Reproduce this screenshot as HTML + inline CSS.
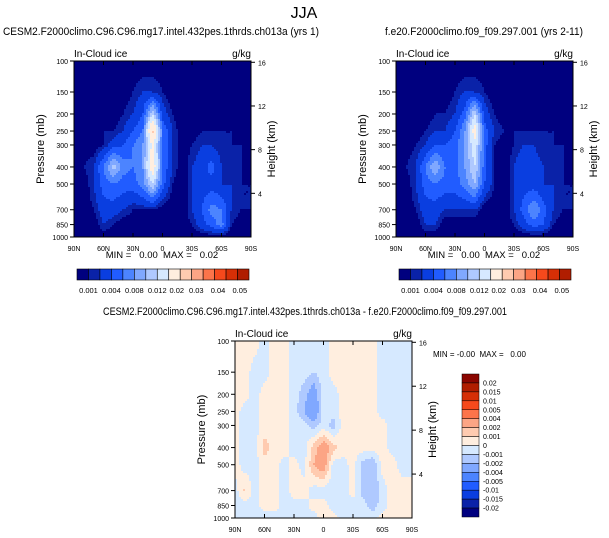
<!DOCTYPE html>
<html><head><meta charset="utf-8"><style>
body{margin:0;background:#fff;width:609px;height:538px;overflow:hidden;font-family:"Liberation Sans",sans-serif}
svg{display:block}
text{white-space:pre}
</style></head><body>
<svg id="c" width="609" height="538" xmlns="http://www.w3.org/2000/svg" font-family="Liberation Sans, sans-serif">
<text x="304" y="18" font-size="16" text-anchor="middle">JJA</text>
</svg>
<script>
// ---- data ----
const lats = [90,80,70,60,50,40,30,20,10,0,-10,-20,-30,-40,-50,-60,-70,-80,-90];
const levels = [100,150,200,250,300,400,500,700,850,1000];
const fieldA = [
[0,0,0,0,0,0,0,0,0,0,0,0,0,0,0,0,0,0,0],
[0,0,0,0,0,0,0.001,0.002,0.002,0.001,0,0,0,0,0,0,0,0,0],
[0,0,0,0,0,0.001,0.002,0.004,0.012,0.003,0.001,0,0,0,0,0,0,0,0],
[0,0,0,0.001,0.001,0.002,0.004,0.006,0.021,0.006,0.002,0,0,0.001,0.001,0.001,0.001,0,0],
[0,0,0,0.001,0.003,0.004,0.006,0.008,0.016,0.006,0.002,0,0.001,0.002,0.002,0.001,0.001,0.001,0],
[0.001,0.001,0.002,0.006,0.011,0.007,0.006,0.008,0.018,0.006,0.002,0,0.002,0.003,0.005,0.002,0.001,0.001,0],
[0,0,0.002,0.005,0.006,0.005,0.005,0.007,0.012,0.005,0.001,0,0.002,0.003,0.003,0.002,0.002,0.001,0.001],
[0,0,0.001,0.003,0.003,0.002,0.001,0.001,0.001,0,0,0,0.002,0.004,0.007,0.006,0.002,0.001,0.001],
[0,0,0,0.002,0.001,0,0,0,0,0,0,0,0.001,0.003,0.005,0.007,0.001,0,0],
[0,0,0,0,0,0,0,0,0,0,0,0,0,0,0,0,0,0,0]];
const fieldB = [
[0,0,0,0,0,0,0,0,0,0,0,0,0,0,0,0,0,0,0],
[0,0,0,0,0,0,0.001,0.002,0.002,0.001,0,0,0,0,0,0,0,0,0],
[0,0,0,0,0.001,0.001,0.002,0.005,0.012,0.003,0.001,0,0,0,0,0,0,0,0],
[0,0,0,0.001,0.002,0.002,0.004,0.008,0.017,0.005,0.002,0.001,0.001,0.001,0.001,0.001,0.001,0,0],
[0,0,0.001,0.002,0.004,0.004,0.005,0.008,0.014,0.005,0.001,0,0.001,0.002,0.002,0.001,0.001,0.001,0.001],
[0.001,0.001,0.002,0.006,0.01,0.006,0.005,0.008,0.012,0.005,0.001,0,0.002,0.004,0.003,0.002,0.001,0.001,0],
[0,0,0.002,0.005,0.006,0.005,0.005,0.007,0.01,0.004,0.001,0,0.002,0.003,0.003,0.002,0.002,0.001,0.001],
[0,0,0.001,0.003,0.003,0.002,0.002,0.002,0.002,0,0,0,0.002,0.005,0.008,0.005,0.002,0.001,0.001],
[0,0,0,0.002,0.002,0,0,0,0,0,0,0,0.001,0.003,0.005,0.004,0.001,0,0],
[0,0,0,0,0,0,0,0,0,0,0,0,0,0,0,0,0,0,0]];
const P=0.0005, B=-0.0005;
const fieldD = [
[P,P,P,B,P,P,B,B,B,B,P,P,P,P,P,B,B,B,B],
[P,P,B,B,P,P,B,B,-0.001,B,P,P,P,P,P,B,B,B,B],
[P,P,B,P,P,P,B,-0.0015,-0.003,B,B,P,P,P,P,B,B,B,B],
[P,B,B,P,P,P,B,-0.002,-0.0035,B,B,P,P,P,P,B,B,B,B],
[P,B,B,P,P,P,B,B,-0.0015,B,-0.0015,P,P,P,P,P,B,B,B],
[P,B,B,0.0015,P,P,B,B,0.0015,0.003,0.0015,P,P,P,P,P,B,B,B],
[P,B,B,P,P,B,P,B,0.002,0.003,B,B,P,-0.0015,-0.002,P,P,B,B],
[B,0.0012,B,P,P,B,P,P,B,B,B,B,P,-0.0015,-0.002,B,P,P,P],
[B,B,B,P,P,B,B,B,P,P,B,B,B,B,-0.0015,B,P,P,P],
[B,B,B,B,B,B,B,B,B,P,P,B,B,B,B,P,P,P,P]];
const thrA = [0.001,0.002,0.004,0.006,0.008,0.01,0.012,0.015,0.02,0.025,0.03,0.035,0.04,0.045];
const colA = ['#00007f','#0a22a8','#0a3ee0','#215cff','#4c84ff','#80a8ff','#afc9ff','#d6e9ff','#ffeedf','#ffcbb0','#fca585','#fc744a','#f5491c','#d62f06','#b01d00'];
const labA = ['0.001','0.004','0.008','0.012','0.02','0.03','0.04','0.05'];
const thrD = [-0.02,-0.015,-0.01,-0.005,-0.004,-0.002,-0.001,0,0.001,0.002,0.004,0.005,0.01,0.015,0.02];
const colD = ['#00007f','#0a22a8','#0a3ee0','#215cff','#4c84ff','#80a8ff','#afc9ff','#d6e9ff','#ffeedf','#ffcbb0','#fca585','#fc744a','#f5491c','#d62f06','#b01d00','#8a0500'];
const labD = ['0.02','0.015','0.01','0.005','0.004','0.002','0.001','0','-0.001','-0.002','-0.004','-0.005','-0.01','-0.015','-0.02'];
const xTicks = ['90N','60N','30N','0','30S','60S','90S'];
const pTicks = [100,150,200,250,300,400,500,700,850,1000];
const hTicks = [16,12,8,4];

const NS='http://www.w3.org/2000/svg';
const svg=document.getElementById('c');
function mk(tag,attrs,parent){const e=document.createElementNS(NS,tag);for(const k in attrs)e.setAttribute(k,attrs[k]);(parent||svg).appendChild(e);return e;}
function txt(x,y,s,size,anchor,parent){const t=mk('text',{x:x,y:y,'font-size':size,'text-anchor':anchor||'start'},parent);t.textContent=s;return t;}

function panel(x0,y0,w,h,field,thr,cols,title,titleX,titleLen,name){
  const g=mk('g',{});
  
  
  const ys=p=>y0+Math.log(p/100)/Math.log(10)*h;
  const lp=levels.map(p=>Math.log(p));
  function val(lat,p){
    let fi=Math.max(0,Math.min(18,(90-lat)/10)); let i=Math.min(Math.floor(fi),17); let fx=fi-i;
    const l=Math.log(p); let j=0; while(j<levels.length-2 && lp[j+1]<l) j++;
    let fy=Math.max(0,Math.min(1,(l-lp[j])/(lp[j+1]-lp[j])));
    const a=field[j][i],b=field[j][i+1],c=field[j+1][i],d=field[j+1][i+1];
    return a*(1-fx)*(1-fy)+b*fx*(1-fy)+c*(1-fx)*fy+d*fx*fy;
  }
  const cg=mk('g',{'shape-rendering':'crispEdges'},g);
  
  
  const step=2;
  for(let py=0;py<h;py+=step){
    const p=100*Math.pow(10,Math.min(h,py+step/2)/h);
    const hh=Math.min(step,h-py);
    let run=null,rx=0;
    for(let px=0;;px+=step){
      const end=px>=w;
      const cx=end?w:px;
      let ci=null;
      if(!end){const lat=90-(px+step/2)/w*180; const v=val(lat,p); ci=0; while(ci<thr.length && v>=thr[ci]) ci++;}
      if(ci!==run){ if(run!==null) mk('rect',{x:x0+rx,y:y0+py,width:cx-rx,height:hh,fill:cols[run]},cg); run=ci; rx=cx; }
      if(end) break;
    }
  }
  mk('rect',{x:x0,y:y0,width:w,height:h,fill:'none',stroke:'#000','stroke-width':1},g);
  const tt=txt(titleX,y0-26,title,11,'middle',g); 
  tt.setAttribute('textLength',titleLen); tt.setAttribute('lengthAdjust','spacingAndGlyphs');
  txt(x0,y0-4,'In-Cloud ice',10,'start',g);
  txt(x0+w,y0-4,'g/kg',10,'end',g);
  xTicks.forEach((s,k)=>{const x=x0+k*w/6; mk('line',{x1:x,y1:y0+h,x2:x,y2:y0+h-4,stroke:'#000'},g); mk('line',{x1:x,y1:y0,x2:x,y2:y0+4,stroke:'#000'},g); const t=txt(x,y0+h+14,s,7,'middle',g); });
  pTicks.forEach(p=>{const y=ys(p); mk('line',{x1:x0-4,y1:y,x2:x0,y2:y,stroke:'#000'},g); const t=txt(x0-6,y+3,String(p),7,'end',g); });
  hTicks.forEach(hk=>{const p=1000*Math.exp(-hk/7); const y=ys(p); mk('line',{x1:x0+w,y1:y,x2:x0+w+4,y2:y,stroke:'#000'},g); const t=txt(x0+w+7,y+3,String(hk),7,'start',g); });
  const yl=txt(0,0,'Pressure (mb)',11,'middle',g); yl.setAttribute('transform',`translate(${x0-30},${y0+h/2}) rotate(-90)`); 
  const hl=txt(0,0,'Height (km)',11,'middle',g); hl.setAttribute('transform',`translate(${x0+w+24},${y0+h/2}) rotate(-90)`); 
  return g;
}
function hbar(x0,y0,w,h,name){
  const g=mk('g',{});
  
  
  const bw=w/colA.length;
  colA.forEach((c,k)=>mk('rect',{x:x0+k*bw,y:y0,width:bw,height:h,fill:c,stroke:'#000','stroke-width':0.6},g));
  const pos=[1,3,5,7,8.7,10.4,12.3,14.2];
  labA.forEach((s,k)=>{const t=txt(x0+pos[k]*bw,y0+h+13,s,7.5,'middle',g); });
}
panel(74,61,177,176,fieldA,thrA,colA,'CESM2.F2000climo.C96.C96.mg17.intel.432pes.1thrds.ch013a (yrs 1)',161,316,'panel-test');
txt(162,258,'MIN =   0.00  MAX =   0.02',9.5,'middle');
hbar(77,269,172,11,'colorbar-top-left');
panel(396,61,177,176,fieldB,thrA,colA,'f.e20.F2000climo.f09_f09.297.001 (yrs 2-11)',484,198,'panel-control');
txt(484,258,'MIN =   0.00  MAX =   0.02',9.5,'middle');
hbar(399,269,172,11,'colorbar-top-right');
panel(235,341,177,177,fieldD,thrD,colD,'CESM2.F2000climo.C96.C96.mg17.intel.432pes.1thrds.ch013a - f.e20.F2000climo.f09_f09.297.001',305,404,'panel-difference');
txt(433,357,'MIN = -0.00  MAX =   0.00',8,'start');
(function(){
  const g=mk('g',{});
  
  
  const x0=462,y0=374,w=17,hh=143,bh=hh/colD.length;
  colD.slice().reverse().forEach((c,k)=>mk('rect',{x:x0,y:y0+k*bh,width:w,height:bh,fill:c,stroke:'#000','stroke-width':0.5},g));
  labD.forEach((s,k)=>{const t=txt(x0+w+4,y0+(k+1)*bh+2.5,s,7,'start',g); });
})();
</script>
</body></html>
